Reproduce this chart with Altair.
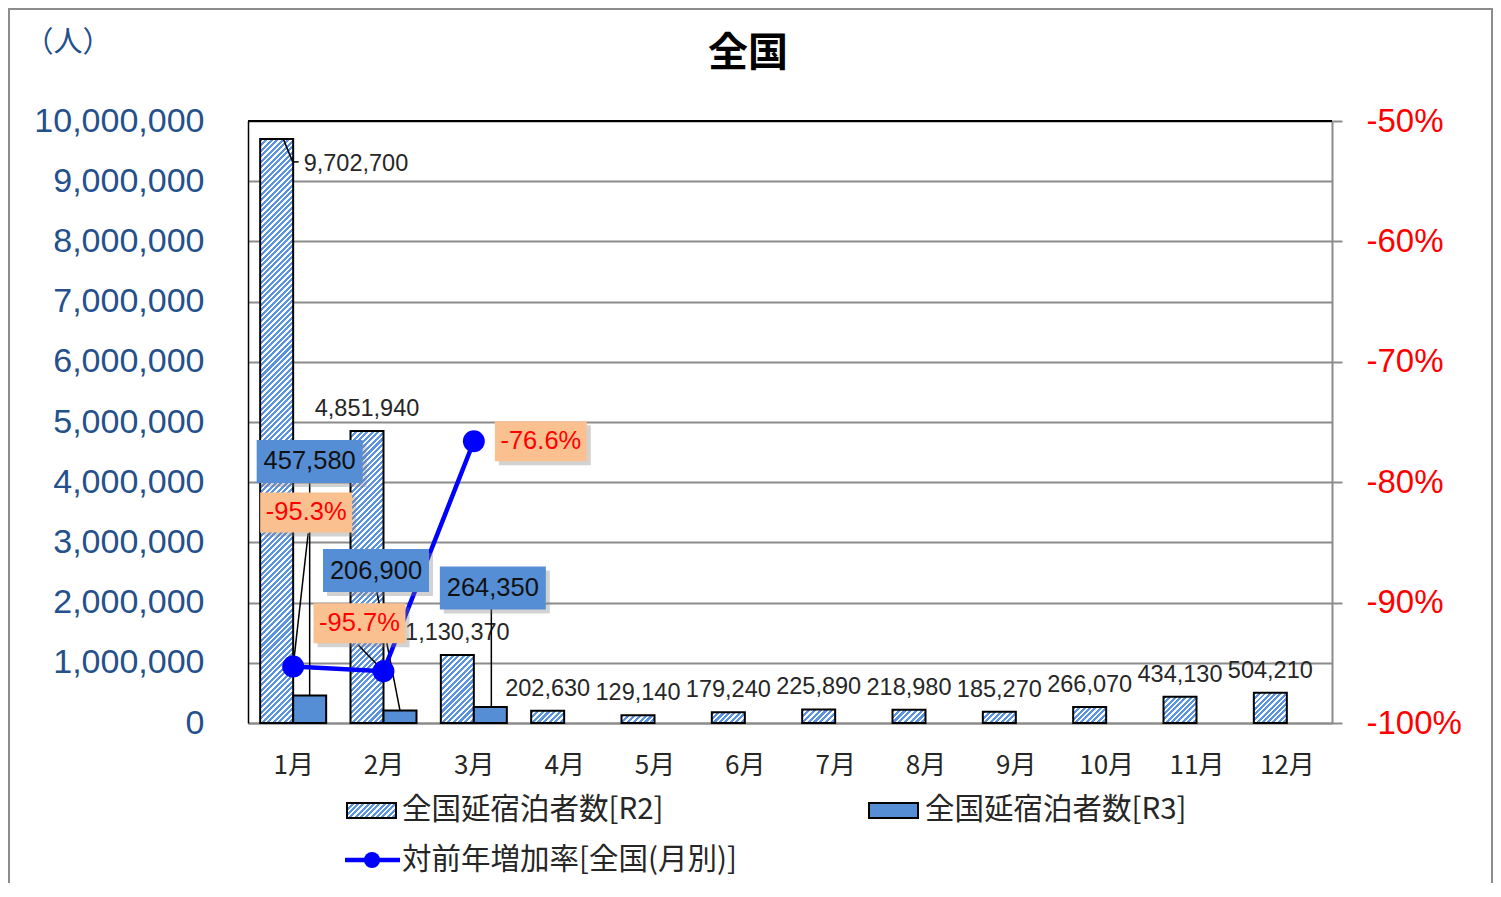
import json
import altair as alt
import pandas as pd

# ---------------- data ----------------
months = [1, 2, 3, 4, 5, 6, 7, 8, 9, 10, 11, 12]
month_labels = ["1月", "2月", "3月", "4月", "5月", "6月", "7月", "8月", "9月", "10月", "11月", "12月"]
r2_values = [9702700, 4851940, 1130370, 202630, 129140, 179240, 225890, 218980, 185270, 266070, 434130, 504210]
r3_months = [1, 2, 3]
r3_values = [457580, 206900, 264350]
rate_months = [1, 2, 3]
rate_values = [-0.953, -0.957, -0.766]
rate_labels = ["-95.3%", "-95.7%", "-76.6%"]
left_ticks = [0, 1000000, 2000000, 3000000, 4000000, 5000000, 6000000, 7000000, 8000000, 9000000, 10000000]
right_ticks = [-1.0, -0.9, -0.8, -0.7, -0.6, -0.5]
title_text = "全国"
unit_text = "（人）"
legend_labels = ["全国延宿泊者数[R2]", "全国延宿泊者数[R3]", "対前年増加率[全国(月別)]"]

# ---------------- layout / style ----------------
W, H = 1084, 602
Y_MAX = 10000000
PAD = {"left": 240, "top": 113, "right": 161, "bottom": 160}
STRIPE_BLUE = "#5b93e3"
STRIPE_PERIOD = 5.5
R3_FILL = "#558ed5"
LINE_BLUE = "#0000ff"
BOX_ORANGE = "#fac090"
AXIS_BLUE = "#24508c"
NUM_FONT = "Liberation Sans"
JP_FONT = "Noto Sans CJK JP"
BAR_W = 33
HALF = 16.5


def hatch(w, h):
    """Linear gradient that draws 45-degree '/' stripes in a w x h box."""
    h = max(h, 1.0)
    k = h / w
    s = (1 + k) / (1 + k * k)
    n = max(1, int(round((w + h) / STRIPE_PERIOD)))
    stops = []
    for j in range(n):
        a, b, c = j / n, (j + 0.55) / n, (j + 1) / n
        stops += [{"offset": a, "color": STRIPE_BLUE}, {"offset": b, "color": STRIPE_BLUE},
                  {"offset": b, "color": "#ffffff"}, {"offset": c, "color": "#ffffff"}]
    return {"gradient": "linear", "x1": 0, "y1": 0, "x2": s, "y2": s * k, "stops": stops}


# label box offsets (pixels, relative to anchor point)
r3_box_off = [(0, -234), (-24, -140), (2.5, -119)]
rate_box_off = [(13, -154), (-24, -48), (67, 0)]
r3_leaders = [(0, -212, 0, 0), (-23, -118, 0, 0), (1, -99, 1, 0)]
rate_leaders = [(15, -133, 0, 0), (-25, -26, 0, 0)]

r2_df = pd.DataFrame({"month": months, "value": r2_values,
                      "label": [f"{v:,}" for v in r2_values]})
r3_df = pd.DataFrame({"month": r3_months, "value": r3_values,
                      "label": [f"{v:,}" for v in r3_values]})
rate_df = pd.DataFrame({"month": rate_months, "rate": rate_values, "label": rate_labels})
deco = pd.DataFrame({"k": [0]})

XS = alt.Scale(domain=[0.5, 12.5], nice=False, zero=False, padding=0)

x_axis = alt.Axis(values=months, labelExpr=json.dumps(month_labels, ensure_ascii=False) + "[datum.value - 1]",
                  ticks=False, grid=False, domainColor="#8c8c8c", domainWidth=2,
                  labelFont=JP_FONT, labelFontSize=26, labelColor="#262626", labelPadding=29,
                  title=None, labelFlush=False, labelOverlap=False)


def xq():
    return alt.X("month:Q", scale=XS, axis=x_axis)


def yl(axis=None):
    return alt.Y("value:Q", scale=alt.Scale(domain=[0, Y_MAX], nice=False, zero=True), axis=axis)


def yr(axis=None):
    return alt.Y("rate:Q", scale=alt.Scale(domain=[-1.0, -0.5], nice=False, zero=False), axis=axis)


left_axis = alt.Axis(orient="left", values=left_ticks, format=",d", grid=True, gridColor="#8c8c8c",
                     gridWidth=2, domainColor="black", domainWidth=1.5, ticks=False,
                     labelPadding=44, labelColor=AXIS_BLUE, labelFontSize=34, labelFont=NUM_FONT,
                     title=None)
right_axis = alt.Axis(orient="right", values=right_ticks, labelExpr="round(datum.value * 100) + '%'",
                      grid=False, domainColor="#8c8c8c", domainWidth=2, tickColor="#8c8c8c",
                      tickSize=10, tickWidth=2, labelColor="#ff0000", labelFontSize=33,
                      labelFont=NUM_FONT, labelPadding=24, title=None)

layers = []

# axes carrier (invisible) so that grid sits behind every bar
layers.append(alt.Chart(r2_df).mark_bar(width=BAR_W, xOffset=-HALF, opacity=0).encode(
    x=xq(), y=yl(left_axis)))

# R2 bars, hatched (one layer per bar so each stripe pattern fits its own box)
for m, v in zip(months, r2_values):
    layers.append(alt.Chart(r2_df).transform_filter(f"datum.month == {m}").mark_bar(
        width=BAR_W, xOffset=-HALF, fill=hatch(BAR_W, v / Y_MAX * H), stroke="black",
        strokeWidth=2).encode(x=xq(), y=yl()))
layers.append(alt.Chart(r3_df).mark_bar(width=BAR_W, xOffset=HALF, fill=R3_FILL, stroke="black",
                                        strokeWidth=2).encode(x=xq(), y=yl()))

# top border of plot area
layers.append(alt.Chart(deco).mark_rule(color="black", strokeWidth=2).encode(
    x=alt.value(0), x2=alt.value(W), y=alt.value(0)))

# R2 value labels
layers.append(alt.Chart(r2_df).transform_filter("datum.month >= 2").mark_text(
    dx=-HALF, dy=-15, baseline="alphabetic", align="center", font=NUM_FONT, fontSize=23.5,
    color="#262626").encode(x=xq(), y=yl(), text="label:N"))
layers.append(alt.Chart(r2_df).transform_filter("datum.month == 1").mark_text(
    dx=-HALF + 27, dy=25, baseline="middle", align="left", font=NUM_FONT, fontSize=23.5,
    color="#262626").encode(x=xq(), y=yl(), text="label:N"))
for (a, b, c, d) in [(7, 1, 16, 23), (16, 23, 22, 23)]:
    layers.append(alt.Chart(r2_df).transform_filter("datum.month == 1").mark_rule(
        color="black", strokeWidth=1.5, xOffset=-HALF + a, yOffset=b, x2Offset=-HALF + c, y2Offset=d
    ).encode(x=xq(), x2="month:Q", y=yl(), y2="value:Q"))

# leader lines
for i, (a, b, c, d) in enumerate(r3_leaders):
    m = r3_months[i]
    layers.append(alt.Chart(r3_df).transform_filter(f"datum.month == {m}").mark_rule(
        color="black", strokeWidth=1.5, xOffset=HALF + a, yOffset=b, x2Offset=HALF + c, y2Offset=d
    ).encode(x=xq(), x2="month:Q", y=yl(), y2="value:Q"))
for i, (a, b, c, d) in enumerate(rate_leaders):
    m = rate_months[i]
    layers.append(alt.Chart(rate_df).transform_filter(f"datum.month == {m}").mark_rule(
        color="black", strokeWidth=1.5, xOffset=a, yOffset=b, x2Offset=c, y2Offset=d
    ).encode(x=xq(), x2="month:Q", y=yr(), y2="rate:Q"))

# rate line and points
layers.append(alt.Chart(rate_df).mark_line(color=LINE_BLUE, strokeWidth=4.5).encode(
    x=xq(), y=yr(right_axis)))
layers.append(alt.Chart(rate_df).mark_circle(color=LINE_BLUE, size=480, opacity=1).encode(
    x=xq(), y=yr()))

# boxed labels
BW, BH = 106, 43
for i, (cx, cy) in enumerate(r3_box_off):
    m = r3_months[i]
    base = alt.Chart(r3_df).transform_filter(f"datum.month == {m}")
    ox = HALF + cx
    layers.append(base.mark_rect(fill="#7f7f7f", opacity=0.35, xOffset=ox - BW / 2 + 4,
                                 x2Offset=ox + BW / 2 + 4, yOffset=cy - BH / 2 + 4,
                                 y2Offset=cy + BH / 2 + 4).encode(x=xq(), x2="month:Q", y=yl(), y2="value:Q"))
    layers.append(base.mark_rect(fill=R3_FILL, xOffset=ox - BW / 2, x2Offset=ox + BW / 2,
                                 yOffset=cy - BH / 2, y2Offset=cy + BH / 2).encode(
        x=xq(), x2="month:Q", y=yl(), y2="value:Q"))
    layers.append(base.mark_text(dx=ox, dy=cy, align="center", baseline="middle", font=NUM_FONT,
                                 fontSize=25.5, color="#111111").encode(x=xq(), y=yl(), text="label:N"))

PW, PH = 92, 40
for i, (cx, cy) in enumerate(rate_box_off):
    m = rate_months[i]
    base = alt.Chart(rate_df).transform_filter(f"datum.month == {m}")
    layers.append(base.mark_rect(fill="#7f7f7f", opacity=0.35, xOffset=cx - PW / 2 + 4,
                                 x2Offset=cx + PW / 2 + 4, yOffset=cy - PH / 2 + 4,
                                 y2Offset=cy + PH / 2 + 4).encode(x=xq(), x2="month:Q", y=yr(), y2="rate:Q"))
    layers.append(base.mark_rect(fill=BOX_ORANGE, xOffset=cx - PW / 2, x2Offset=cx + PW / 2,
                                 yOffset=cy - PH / 2, y2Offset=cy + PH / 2).encode(
        x=xq(), x2="month:Q", y=yr(), y2="rate:Q"))
    layers.append(base.mark_text(dx=cx, dy=cy, align="center", baseline="middle", font=NUM_FONT,
                                 fontSize=25.5, color="#ff0000").encode(x=xq(), y=yr(), text="label:N"))

# legend (drawn by hand)
layers.append(alt.Chart(deco).mark_rect(fill=hatch(49, 15), stroke="black", strokeWidth=2).encode(
    x=alt.value(99), x2=alt.value(148), y=alt.value(682), y2=alt.value(697)))
layers.append(alt.Chart(deco).mark_rect(fill=R3_FILL, stroke="black", strokeWidth=2).encode(
    x=alt.value(621), x2=alt.value(670), y=alt.value(682), y2=alt.value(697)))
layers.append(alt.Chart(deco).mark_rule(color=LINE_BLUE, strokeWidth=4.5).encode(
    x=alt.value(97), x2=alt.value(152), y=alt.value(739)))
layers.append(alt.Chart(deco).mark_circle(color=LINE_BLUE, size=260, opacity=1).encode(
    x=alt.value(124), y=alt.value(739)))
for lbl, lx, ly in [(legend_labels[0], 154, 689), (legend_labels[1], 677, 689), (legend_labels[2], 154, 739)]:
    layers.append(alt.Chart(deco).mark_text(text=lbl, align="left", baseline="middle", font=JP_FONT,
                                            fontSize=29.5, color="#262626").encode(
        x=alt.value(lx), y=alt.value(ly)))

# title, unit label and outer frame
layers.append(alt.Chart(deco).mark_text(text=title_text, align="center", baseline="middle", font=JP_FONT,
                                        fontSize=40, fontWeight="bold", color="black").encode(
    x=alt.value(500), y=alt.value(-67)))
layers.append(alt.Chart(deco).mark_text(text=unit_text, align="center", baseline="middle", font=JP_FONT,
                                        fontSize=29, color=AXIS_BLUE).encode(
    x=alt.value(-180), y=alt.value(-78)))
layers.append(alt.Chart(deco).mark_rect(fill=None, stroke="#8c8c8c", strokeWidth=2).encode(
    x=alt.value(-239), x2=alt.value(1244), y=alt.value(-112), y2=alt.value(800)))

chart = alt.layer(*layers).resolve_scale(y="independent").properties(
    width=W, height=H, padding=PAD, autosize=alt.AutoSizeParams(type="none"),
).configure_view(stroke=None).configure(background="white")

chart.save("out.html", embed_options={"renderer": "svg", "actions": False})
